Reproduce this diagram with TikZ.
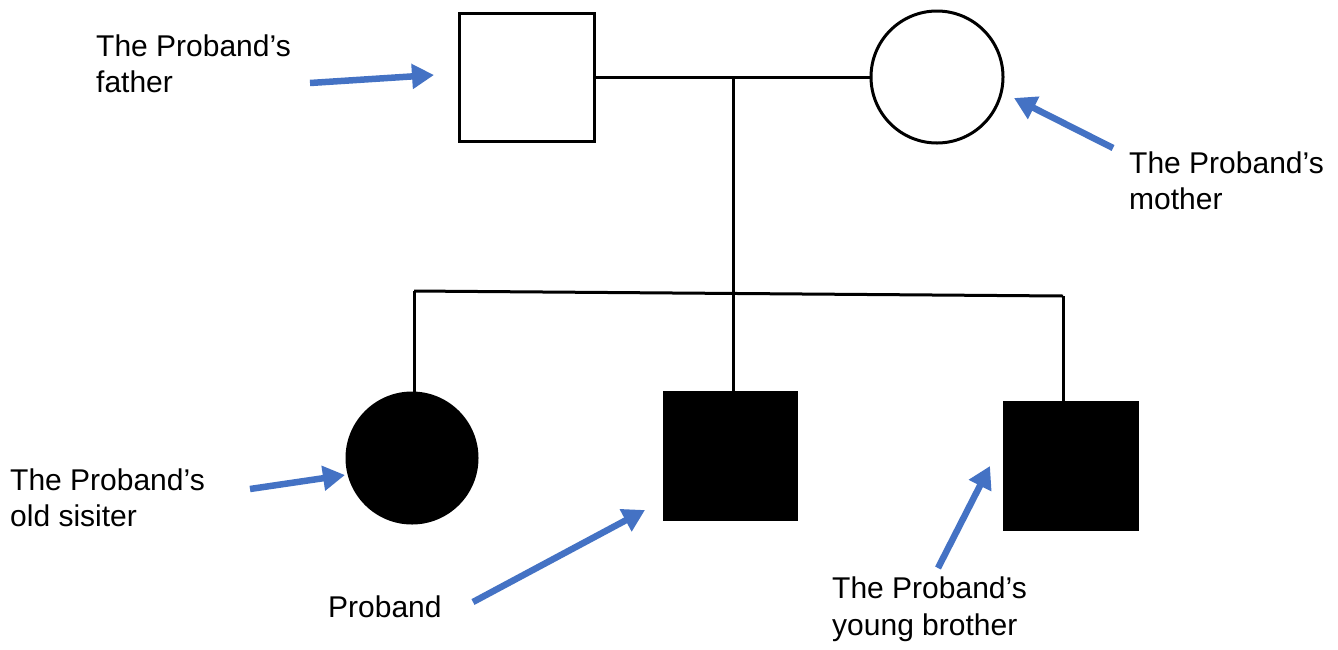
\documentclass[tikz,border=0pt]{standalone}
\usepackage{fontspec}
\setmainfont{Liberation Sans}
\usetikzlibrary{arrows.meta}
\definecolor{arrowblue}{HTML}{4472C4}
\begin{document}
\begin{tikzpicture}[x=1pt,y=-1pt,
  line/.style={line width=3pt, black},
  male/.style={draw=black, line width=3pt, inner sep=0pt, rectangle},
  female/.style={draw=black, line width=3pt, inner sep=0pt, circle},
  pointer/.style={draw=arrowblue, line width=6.5pt, -{Triangle[length=22pt,width=24pt]}},
  label/.style={anchor=north west, inner sep=0pt, align=left, font=\fontsize{30}{36.5}\selectfont}
]
\useasboundingbox (0,0) rectangle (1338,649);
\fill[white] (0,0) rectangle (1338,649);

% persons
\node[male, minimum width=135pt, minimum height=128pt] (father) at (526.5,77) {};
\node[female, minimum size=132pt] (mother) at (937,77) {};
\node[female, fill=black, minimum size=130pt] (sister) at (412,458) {};
\node[male, fill=black, minimum width=132pt, minimum height=127pt] (proband) at (730,455.5) {};
\node[male, fill=black, minimum width=133pt, minimum height=127pt] (brother) at (1070.5,465.5) {};

% pedigree lines
\draw[line] (father.east) -- (mother.west);
\coordinate (mate) at (733,77);
\draw[line] (mate) -- (mate |- proband.north);
\coordinate (sl) at (414,291);
\coordinate (sr) at (1063,296);
\draw[line] (sl) -- (sr);
\draw[line] (sl) -- (sl |- sister.north);
\draw[line] (sr) -- (sr |- brother.north);

% labels
\node[label] (tfather) at (96,34.5) {The Proband’s\\father};
\node[label] (tmother) at (1129,151.5) {The Proband’s\\mother};
\node[label] (tsister) at (10,468.5) {The Proband’s\\old sisiter};
\node[label] (tproband) at (328,596) {Proband};
\node[label] (tbrother) at (832,577) {The Proband’s\\young brother};

% pointer arrows
\coordinate (fa1) at (310,83); \coordinate (fa2) at (434,75);
\coordinate (ma1) at (1113,148); \coordinate (ma2) at (1014,98);
\coordinate (sa1) at (250,489); \coordinate (sa2) at (345,475);
\coordinate (pa1) at (473,602); \coordinate (pa2) at (645,510);
\coordinate (ba1) at (938,568); \coordinate (ba2) at (990,466);
\draw[pointer] (fa1) -- (fa2);
\draw[pointer] (ma1) -- (ma2);
\draw[pointer] (sa1) -- (sa2);
\draw[pointer] (pa1) -- (pa2);
\draw[pointer] (ba1) -- (ba2);
\end{tikzpicture}
\end{document}
